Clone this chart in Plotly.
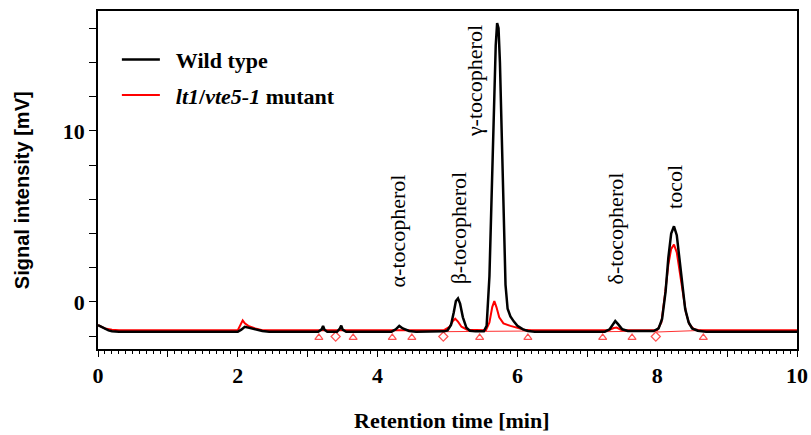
import plotly.graph_objects as go

# ---- data ----
wt_time = [0.00, 0.05, 0.10, 0.15, 0.20, 0.30, 1.00, 2.00, 2.05, 2.10, 2.15, 2.25, 2.35, 2.45,
           3.15, 3.20, 3.22, 3.24, 3.28, 3.42, 3.46, 3.48, 3.50, 3.55,
           4.20, 4.26, 4.31, 4.36, 4.45, 4.55, 4.95, 5.00, 5.05, 5.09, 5.12, 5.15, 5.18, 5.22,
           5.27, 5.32, 5.40, 5.52, 5.56, 5.60, 5.63, 5.66, 5.69, 5.71, 5.73, 5.75, 5.77, 5.80,
           5.83, 5.86, 5.90, 5.95, 6.00, 6.08, 6.15, 6.25, 7.25, 7.32, 7.37, 7.40, 7.44, 7.50,
           7.58, 7.70, 7.95, 8.02, 8.07, 8.12, 8.16, 8.20, 8.24, 8.28, 8.32, 8.36, 8.40, 8.45,
           8.50, 8.58, 8.70, 10.00]
wt_signal = [-1.35, -1.45, -1.58, -1.66, -1.71, -1.74, -1.74, -1.74, -1.62, -1.45, -1.50, -1.62, -1.70, -1.74,
             -1.74, -1.60, -1.40, -1.62, -1.74, -1.74, -1.55, -1.38, -1.62, -1.74,
             -1.74, -1.60, -1.40, -1.55, -1.70, -1.74, -1.72, -1.66, -1.35, -0.60, 0.05, 0.20, -0.10, -0.90,
             -1.50, -1.68, -1.72, -1.72, -1.40, 1.50, 6.00, 11.50, 15.00, 16.30, 16.00, 14.00, 10.50, 5.00,
             1.00, -0.40, -0.85, -1.15, -1.40, -1.60, -1.70, -1.74, -1.74, -1.60, -1.30, -1.12, -1.30, -1.60,
             -1.70, -1.71, -1.70, -1.55, -1.00, 0.60, 2.60, 4.00, 4.42, 3.90, 2.40, 0.80, -0.40, -1.20,
             -1.55, -1.68, -1.74, -1.74]

mut_time = [0.00, 0.05, 0.10, 0.20, 0.30, 2.00, 2.04, 2.07, 2.10, 2.15, 2.25, 2.35,
            4.95, 5.03, 5.08, 5.11, 5.15, 5.20, 5.28, 5.40, 5.55, 5.60, 5.64, 5.67, 5.70, 5.74,
            5.80, 5.90, 6.00, 6.10, 6.20, 7.30, 7.38, 7.42, 7.48, 7.58, 8.00, 8.06, 8.11, 8.16,
            8.20, 8.24, 8.28, 8.32, 8.36, 8.41, 8.46, 8.52, 8.60, 10.00]
mut_signal = [-1.35, -1.45, -1.55, -1.62, -1.65, -1.65, -1.35, -1.08, -1.25, -1.40, -1.55, -1.65,
              -1.65, -1.45, -1.10, -0.98, -1.15, -1.45, -1.62, -1.65, -1.65, -1.20, -0.30, 0.05, -0.30, -0.90,
              -1.25, -1.40, -1.52, -1.62, -1.65, -1.65, -1.52, -1.50, -1.62, -1.65, -1.65, -1.20, 0.40, 2.20,
              3.10, 3.35, 2.90, 1.80, 0.50, -0.60, -1.30, -1.58, -1.65, -1.65]

# integration baselines drawn under the mutant peaks
base_time = [4.94, 5.46, None, 5.46, 6.15, None, 7.22, 7.64, None, 7.98, 8.66]
base_signal = [-1.74, -1.72, None, -1.72, -1.70, None, -1.74, -1.72, None, -1.76, -1.66]

# peak start/end markers
tri_time = [3.16, 3.65, 4.21, 4.49, 5.46, 6.15, 7.22, 7.64, 8.66]
tri_signal = [-2.08] * len(tri_time)
dia_time = [3.40, 4.94, 7.98]
dia_signal = [-2.02] * len(dia_time)

peak_names = ["α-tocopherol", "β-tocopherol", "γ-tocopherol", "δ-tocopherol", "tocol"]
peak_label_x = [4.29, 5.16, 5.39, 7.40, 8.25]
peak_label_y = [0.75, 0.92, 9.5, 0.92, 5.3]

x_ticks = [0, 1, 2, 3, 4, 5, 6, 7, 8, 9, 10]
x_ticktext = ["<b>0</b>", "", "<b>2</b>", "", "<b>4</b>", "", "<b>6</b>", "", "<b>8</b>", "", "<b>10</b>"]
y_ticks = [-2, 0, 2, 4, 6, 8, 10, 12, 14, 16]
y_ticktext = ["", "<b>0</b>", "", "", "", "", "<b>10</b>", "", "", ""]

SERIF = "Liberation Serif, Times New Roman, serif"
SANS = "Liberation Sans, Arial, sans-serif"

fig = go.Figure()
fig.add_trace(go.Scatter(x=base_time, y=base_signal, mode="lines",
                         line=dict(color="#ff3030", width=1), showlegend=False, hoverinfo="skip"))
fig.add_trace(go.Scatter(x=tri_time, y=tri_signal, mode="markers",
                         marker=dict(symbol="triangle-up-open", size=7, color="#ff5050",
                                     line=dict(width=1.2)), showlegend=False))
fig.add_trace(go.Scatter(x=dia_time, y=dia_signal, mode="markers",
                         marker=dict(symbol="diamond-open", size=7, color="#ff5050",
                                     line=dict(width=1.2)), showlegend=False))
fig.add_trace(go.Scatter(x=mut_time, y=mut_signal, mode="lines",
                         name="&nbsp;&nbsp;<i>lt1</i>/<i>vte5-1</i> mutant",
                         line=dict(color="#ff0000", width=2), legendgroup="b", legendrank=2))
fig.add_trace(go.Scatter(x=wt_time, y=wt_signal, mode="lines", name="&nbsp;&nbsp;Wild type",
                         line=dict(color="#000000", width=2.5), legendgroup="a", legendrank=1))

for name, px, py in zip(peak_names, peak_label_x, peak_label_y):
    fig.add_annotation(x=px, y=py, text=name, textangle=-90, showarrow=False,
                       xanchor="center", yanchor="bottom",
                       font=dict(family=SERIF, size=22, color="black"))

# axis titles
fig.add_annotation(xref="paper", yref="paper", x=0.506, y=-0.213, text="<b>Retention time [min]</b>",
                   showarrow=False, xanchor="center", yanchor="middle",
                   font=dict(family=SERIF, size=22, color="black"))
fig.add_annotation(xref="paper", yref="paper", x=-0.1087, y=0.47, text="<b>Signal intensity [mV]</b>",
                   showarrow=False, textangle=-90, xanchor="center", yanchor="middle",
                   font=dict(family=SANS, size=20, color="black"))

fig.update_layout(
    width=811, height=435,
    margin=dict(l=98, r=14, t=11, b=86),
    paper_bgcolor="white", plot_bgcolor="white",
    font=dict(family=SERIF, color="black"),
    showlegend=True,
    legend=dict(x=0.027, y=0.918, xanchor="left", yanchor="top",
                font=dict(family=SERIF, size=22, color="black", weight="bold"),
                bgcolor="rgba(0,0,0,0)", traceorder="grouped", tracegroupgap=4,
                itemwidth=38),
    xaxis=dict(range=[0, 10], tickvals=x_ticks, ticktext=x_ticktext, automargin=False,
               ticks="outside", ticklen=6, tickwidth=1.2, tickcolor="black",
               showline=True, linecolor="black", linewidth=1.5, mirror=True,
               showgrid=False, zeroline=False,
               minor=dict(dtick=0.1, ticks="outside", ticklen=3, tickcolor="black", tickwidth=1),
               tickfont=dict(family=SERIF, size=22, color="black")),
    yaxis=dict(range=[-2.75, 17.0], tickvals=y_ticks, ticktext=y_ticktext, automargin=False,
               ticks="outside", ticklen=7, tickwidth=1.2, tickcolor="black",
               showline=True, linecolor="black", linewidth=1.5, mirror=True,
               showgrid=False, zeroline=False,
               tickfont=dict(family=SERIF, size=22, color="black")),
)

fig.write_html("out.html", config={"displayModeBar": False},
               post_script="document.body.style.margin='0px';")
